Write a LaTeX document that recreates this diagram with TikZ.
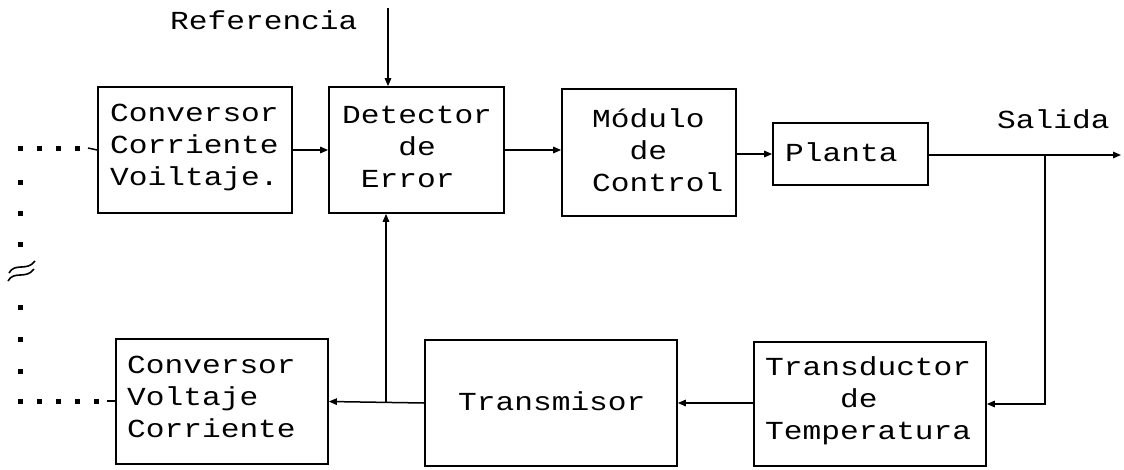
\documentclass[tikz,border=0pt]{standalone}
\usepackage{fontspec}
\newfontfamily\dm[FakeStretch=1.2]{Liberation Mono}
\usetikzlibrary{arrows.meta}
\begin{document}
\begin{tikzpicture}[x=1pt,y=-1pt,
  box/.style={draw,line width=1.7pt,inner sep=0pt},
  lbl/.style={font=\dm\fontsize{26}{32}\selectfont,align=left,inner sep=0pt,anchor=west},
  arr/.style={line width=1.5pt,-{Triangle[length=8pt,width=6.5pt]}},
  ln/.style={line width=1.5pt},
  dot/.style={fill=black}
]
\useasboundingbox (0,0) rectangle (1124,469);
% boxes
\node[box,minimum width=194pt,minimum height=126pt] (cc) at (195,150) {};
\node[box,minimum width=175pt,minimum height=126pt] (det) at (416.5,150) {};
\node[box,minimum width=174pt,minimum height=127pt] (mod) at (649,152.5) {};
\node[box,minimum width=155pt,minimum height=62pt] (pla) at (850.5,154) {};
\node[box,minimum width=212pt,minimum height=125pt] (vc) at (222,401.5) {};
\node[box,minimum width=252pt,minimum height=126pt] (tx) at (551,403) {};
\node[box,minimum width=232pt,minimum height=124pt] (td) at (870,404) {};
% texts
\node[lbl] (tcc) at (110,147) {Conversor\\Corriente\\Voiltaje.};
\node[lbl] (tdet) at (342,147) {Detector\\\phantom{Det}de\\\phantom{D}Error};
\node[lbl] (tmod) at (592,150) {Módulo\\\phantom{Mó}de\\Control};
\node[lbl] (tpla) at (785,152) {Planta};
\node[lbl] (tvc) at (127,397) {Conversor\\Voltaje\\Corriente};
\node[lbl] (ttx) at (458,401) {Transmisor};
\node[lbl] (ttd) at (765,401) {Transductor\\\phantom{Tran}de\\Temperatura};
\node[lbl] (tref) at (170,20) {Referencia};
\node[lbl] (tsal) at (997,119) {Salida};
% connectors
\coordinate (refin) at (388,8);
\draw[arr] (refin) -- (refin |- det.north);
\draw[arr] (cc.east) -- (det.west);
\draw[arr] (det.east) -- (det.east -| mod.west);
\draw[arr] (pla.west -| mod.east) -- (pla.west);
\coordinate (out) at (1121,155);
\coordinate (br) at (1045,155);
\draw[arr] (pla.east |- out) -- (out);
\draw[arr] (br) |- (td.east);
\draw[arr] (td.west) -- (tx.east -| td.west) -- (tx.east);
\draw[arr] (tx.west) -- (vc.east);
\coordinate (fb) at (386,403);
\draw[arr] (fb) -- (fb |- det.south);
% dotted signal lines
\coordinate (dtop) at (20,148);
\coordinate (dbot) at (20,401);
\foreach \y in {148,182,213,244,307,339,371,401}
  \fill[dot] (18,\y-2) rectangle ++(4.5,4.5);
\foreach \x in {39,58,77}
  \fill[dot] (\x-2,146) rectangle ++(4.5,4.5);
\foreach \x in {39,58,77,96}
  \fill[dot] (\x-2,399) rectangle ++(4.5,4.5);
\draw[ln] (88,148) -- (cc.west);
\draw[ln] (107,401) -- (vc.west |- dbot);
% break symbol
\draw[line width=1.6pt] (9,273) .. controls (15,262) and (27,272) .. (35,261);
\draw[line width=1.6pt] (8,281) .. controls (14,270) and (26,280) .. (34,269);
\end{tikzpicture}
\end{document}
